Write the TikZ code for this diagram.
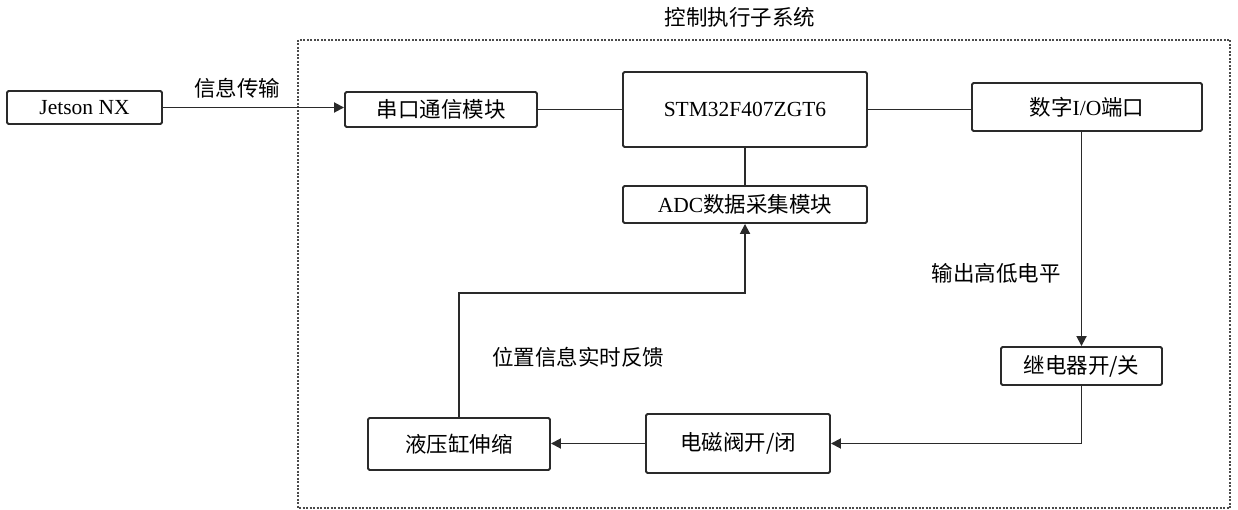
\documentclass[tikz,border=0pt]{standalone}
\usepackage{fontspec}
\setmainfont{Liberation Serif}
\newfontfamily\cjk{Noto Sans CJK SC}
\usetikzlibrary{arrows.meta}
\definecolor{ln}{HTML}{2a2a2a}
\begin{document}
\begin{tikzpicture}[x=1pt,y=-1pt,
  box/.style={draw=ln,line width=1.9pt,rounded corners=1.5pt,inner sep=0pt,font=\fontsize{21.5}{23}\selectfont},
  conn/.style={draw=ln,line width=1.8pt},
  arr/.style={conn,-{Triangle[length=10pt,width=10pt]}},
  lbl/.style={font=\fontsize{21.5}{23}\selectfont\cjk,inner sep=0pt}]
\useasboundingbox (0,0) rectangle (1238,510);
% subsystem frame
\draw[draw=ln!85,line width=1.5pt,dash pattern=on 2pt off 1.5pt] (298,40) rectangle (1230,508);
\node[lbl] (title) at (740,17) {控制执行子系统};
% boxes
\node[box,minimum width=155,minimum height=33] (jet) at (84.5,107.5) {Jetson NX};
\node[box,minimum width=192,minimum height=35] (ser) at (441,109.5) {\cjk 串口通信模块};
\node[box,minimum width=244,minimum height=75] (stm) at (745,109.5) {STM32F407ZGT6};
\node[box,minimum width=244,minimum height=37] (adc) at (745,204.5) {ADC{\cjk 数据采集模块}};
\node[box,minimum width=230,minimum height=48] (io) at (1087,107) {{\cjk 数字}I/O{\cjk 端口}};
\node[box,minimum width=161,minimum height=38] (rel) at (1081.5,366) {\cjk 继电器开/关};
\node[box,minimum width=184,minimum height=59] (val) at (738,443.5) {\cjk 电磁阀开/闭};
\node[box,minimum width=182,minimum height=52] (hyd) at (459,444) {\cjk 液压缸伸缩};
% labels
\node[lbl] (l1) at (237,88) {信息传输};
\node[lbl] (l2) at (996,273) {输出高低电平};
\node[lbl] (l3) at (578,357) {位置信息实时反馈};
% connectors
\coordinate (fb) at (600,293);
\draw[arr] (jet.east) -- (jet.east -| ser.west);
\draw[conn] (ser.east) -- (ser.east -| stm.west);
\draw[conn] (stm.east) -- (stm.east -| io.west);
\draw[conn] (stm.south) -- (adc.north);
\draw[arr] (rel.north |- io.south) -- (rel.north);
\draw[arr] (rel.south) |- (val.east);
\draw[arr] (val.west) -- (val.west -| hyd.east);
\draw[arr] (hyd.north) -- (hyd.north |- fb) -| (adc.south);
\end{tikzpicture}
\end{document}
